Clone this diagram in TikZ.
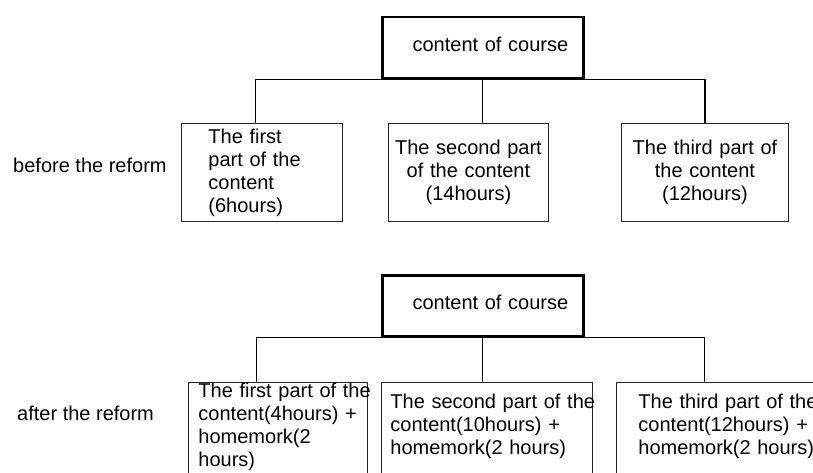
\documentclass[tikz,border=0pt]{standalone}
\usepackage{fontspec}
\setmainfont{Liberation Sans}
\usetikzlibrary{positioning}

\begin{document}
\begin{tikzpicture}[x=1pt,y=-1pt,
  every node/.style={font=\fontsize{20}{23}\selectfont},
  topbox/.style={draw,line width=2.5pt,minimum height=61pt,text width=171pt,inner xsep=15pt,align=right,text depth=7pt,anchor=north west},
  partbox/.style={draw=black!85,line width=0.9pt,minimum height=98pt,anchor=north west},
  newbox/.style={draw=black!85,line width=0.9pt,anchor=north west,align=left,text height=14pt,text depth=100pt,inner ysep=1pt},
  link/.style={line width=1.2pt}]
\useasboundingbox (0,0) rectangle (813,473);
\clip (0,0) rectangle (813,473);
\node[topbox] (oldtop) at (381,16) {content of course};
\node[partbox,text width=107pt,inner xsep=27pt,align=left] (oldA) at (181,123) {The first\\part of the\\content\\(6hours)};
\node[partbox,text width=152pt,inner xsep=4pt,align=center] (oldB) at (388,123) {The second part\\of the content\\(14hours)};
\node[partbox,text width=159pt,inner xsep=4pt,align=center] (oldC) at (621,123) {The third part of\\the content\\(12hours)};
\node[anchor=base west,inner sep=0pt] (before) at (13,173) {before the reform};
\draw[link] (oldtop.south) -- (oldtop.south |- oldB.north);
\draw[link] (oldtop.south) -| ([xshift=-6.5pt]oldA.north);
\draw[link] (oldtop.south) -| (oldC.north);

\node[topbox] (newtop) at (381,274) {content of course};
\node[newbox,text width=159pt,inner xsep=10pt] (newA) at (188,382) {\mbox{The first part of the}\\content(4hours) +\\homemork(2\\hours)};
\node[newbox,text width=193pt,inner xsep=9pt,inner ysep=12pt] (newB) at (381,382) {\mbox{The second part of the}\\content(10hours) +\\homemork(2 hours)};
\node[newbox,text width=185pt,inner xsep=22pt,inner ysep=12pt] (newC) at (616,382) {\mbox{The third part of the}\\content(12hours) +\\homemork(2 hours)};
\node[anchor=base west,inner sep=0pt] (after) at (17,420) {after the reform};
\draw[link] (newtop.south) -- (newtop.south |- newB.north);
\draw[link] (newtop.south) -| ([xshift=-21.5pt]newA.north);
\draw[link] (newtop.south) -| ([xshift=-26.5pt]newC.north);
\end{tikzpicture}
\end{document}
